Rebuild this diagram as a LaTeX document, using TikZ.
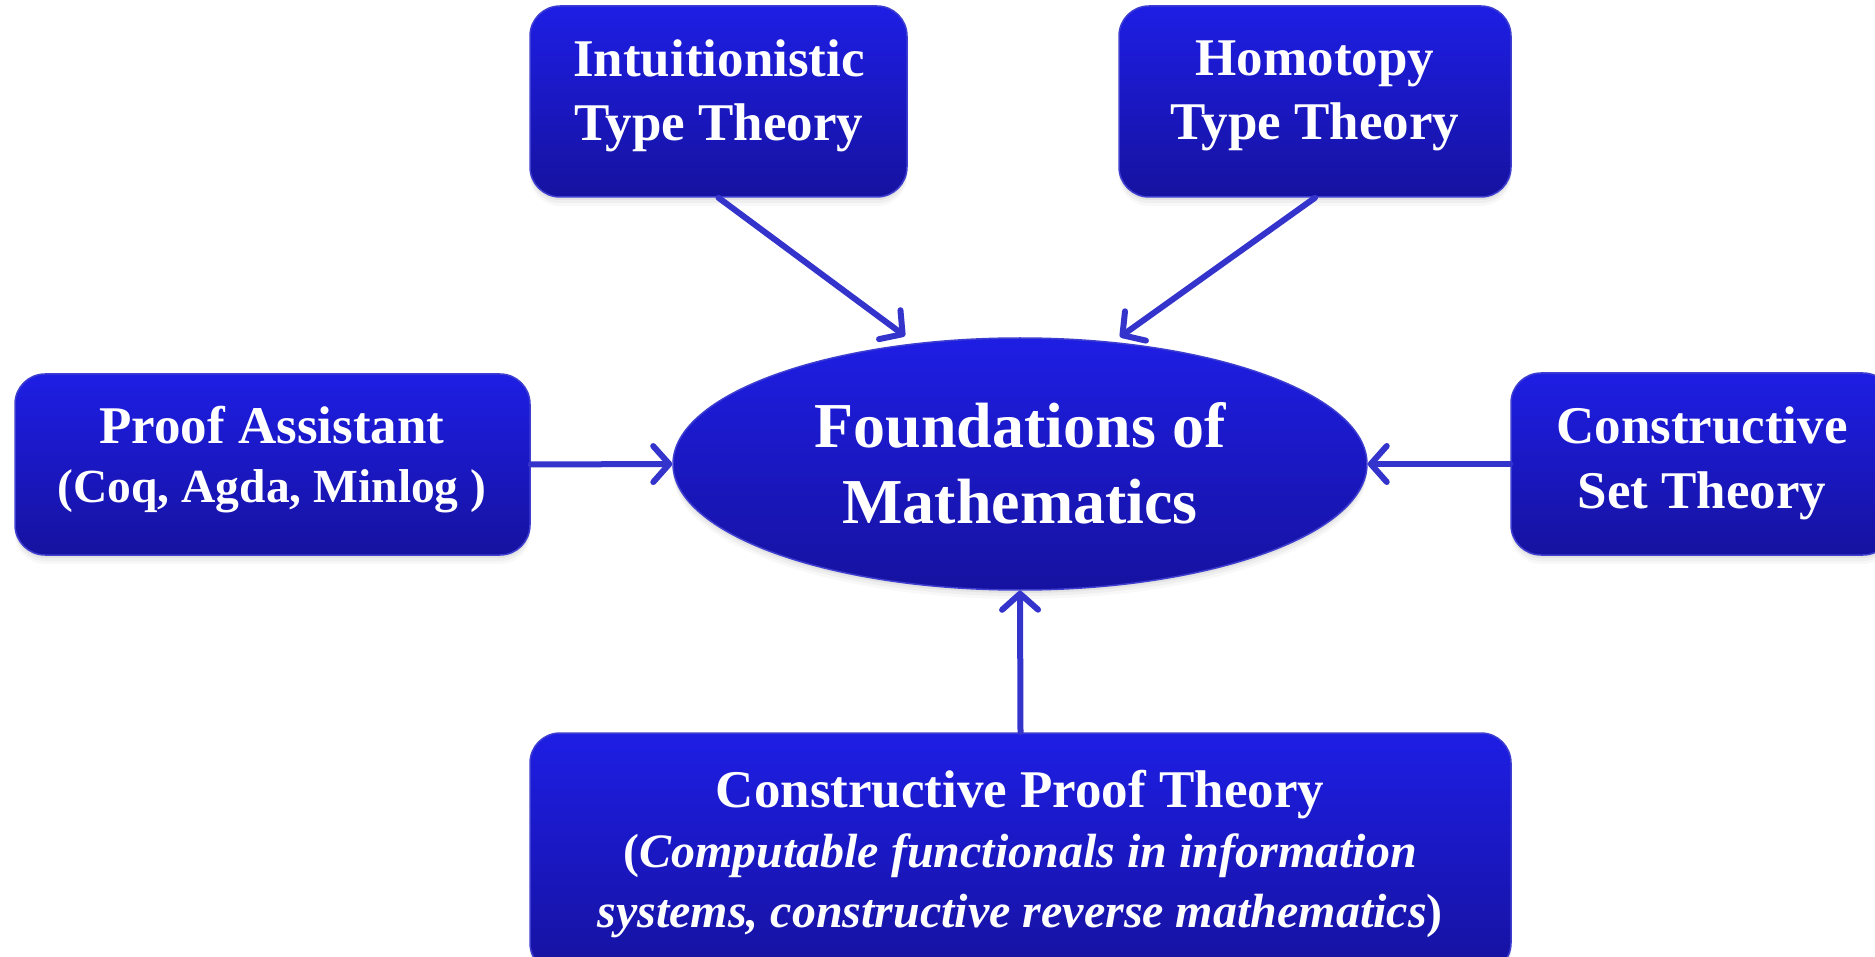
\documentclass[tikz,border=0pt]{standalone}
\usepackage{fontspec}
\setmainfont{Liberation Serif}
\usetikzlibrary{shapes.geometric,shadows,arrows.meta}
\definecolor{boxtop}{RGB}{30,30,228}
\definecolor{boxbot}{RGB}{22,18,160}
\definecolor{boxedge}{RGB}{62,62,208}
\definecolor{arrowblue}{RGB}{52,52,205}
\tikzset{
  softshadow/.style={
    drop shadow={opacity=0.10,shadow xshift=0pt,shadow yshift=-3pt},
    drop shadow={opacity=0.08,shadow xshift=0pt,shadow yshift=-6pt},
    drop shadow={opacity=0.05,shadow xshift=0pt,shadow yshift=-9pt}},
  bluebox/.style={rectangle, rounded corners=30pt, draw=boxedge, line width=1.5pt,
    top color=boxtop, bottom color=boxbot, softshadow, inner sep=0pt},
  blueell/.style={ellipse, draw=boxedge, line width=1.5pt,
    top color=boxtop, bottom color=boxbot, softshadow, inner sep=0pt},
  lbl/.style={text=white, align=center, inner sep=0pt},
  arr/.style={draw=arrowblue, line width=6pt, line cap=round,
    -{Straight Barb[length=16pt,width=36pt,line cap=round,line join=round]}}
}
\begin{document}
\begin{tikzpicture}[x=1pt,y=-1pt]
\useasboundingbox (0,0) rectangle (1875,957);
\clip (0,0) rectangle (1875,957);
\fill[white] (0,0) rectangle (1875,957);
% boxes
\node[bluebox, minimum width=377pt, minimum height=191pt] (itt) at (718.5,101.5) {};
\node[bluebox, minimum width=392pt, minimum height=191pt] (htt) at (1315,101.5) {};
\node[bluebox, minimum width=515pt, minimum height=181pt] (pa) at (272.5,464.5) {};
\node[bluebox, minimum width=382pt, minimum height=182pt] (cst) at (1702,464) {};
\node[bluebox, minimum width=981pt, minimum height=240pt] (cpt) at (1020.5,853) {};
\node[blueell, minimum width=694pt, minimum height=252pt] (fm) at (1020,464) {};
% texts
\node[lbl, font={\fontsize{53}{64}\selectfont\bfseries}] (itt-t) at (719,95.5) {Intuitionistic\\Type Theory};
\node[lbl, font={\fontsize{53}{64}\selectfont\bfseries}] (htt-t) at (1315,95.5) {Homotopy\\Type Theory};
\node[lbl, font={\fontsize{53}{59}\selectfont\bfseries}] (pa-t) at (272,460) {Proof Assistant\\{\fontsize{47.5}{59}\selectfont (Coq, Agda, Minlog )}};
\node[lbl, font={\fontsize{53}{65}\selectfont\bfseries}] (cst-t) at (1702,463) {Constructive\\Set Theory};
\node[lbl, font={\fontsize{64}{76}\selectfont\bfseries}] (fm-t) at (1020,463) {Foundations of\\Mathematics};
\node[lbl, font={\fontsize{48}{60}\selectfont\bfseries}] (cpt-t) at (1020,854) {{\fontsize{53}{60}\selectfont Constructive Proof Theory}\\(\textit{Computable functionals in information}\\\textit{systems, constructive reverse mathematics})};
% connectors
\coordinate (ittend) at (905,336);
\coordinate (httend) at (1120,337);
\draw[arr] (itt.south) -- (ittend);
\draw[arr] (htt.south) -- (httend);
\draw[arr] (pa.east) -- (fm.west);
\draw[arr] (cst.west) -- (fm.east);
\draw[arr] (cpt.north) -- (fm.south);
\end{tikzpicture}
\end{document}
